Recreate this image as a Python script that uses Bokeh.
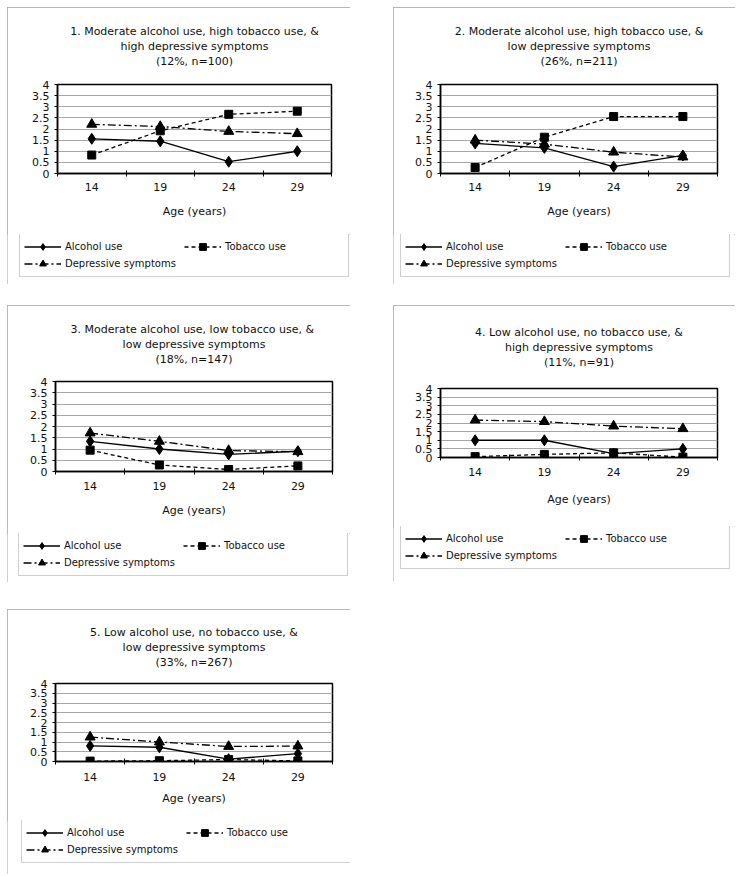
from bokeh.plotting import figure
from bokeh.models import FixedTicker, Legend, LegendItem, Range1d, Spacer
from bokeh.layouts import column, row
from bokeh.embed import file_html
from bokeh.resources import INLINE

# ---------------- data ----------------
ages = ["14", "19", "24", "29"]
y_ticks = [0, 0.5, 1, 1.5, 2, 2.5, 3, 3.5, 4]
y_tick_labels = ["0", "0.5", "1", "1.5", "2", "2.5", "3", "3.5", "4"]
series_names = ["Alcohol use", "Tobacco use", "Depressive symptoms"]

titles = [
    "1. Moderate alcohol use, high tobacco use, &\nhigh depressive symptoms\n(12%, n=100)",
    "2. Moderate alcohol use, high tobacco use, &\nlow depressive symptoms\n(26%, n=211)",
    "3. Moderate alcohol  use, low tobacco use, &\nlow depressive symptoms\n(18%, n=147)",
    "4. Low alcohol use, no tobacco use, &\nhigh depressive symptoms\n(11%, n=91)",
    "5. Low alcohol use, no tobacco use, &\nlow depressive symptoms\n(33%, n=267)",
]

alcohol_1 = [1.56, 1.45, 0.53, 1.00]
tobacco_1 = [0.83, 1.92, 2.66, 2.80]
depressive_1 = [2.21, 2.11, 1.89, 1.79]

alcohol_2 = [1.35, 1.15, 0.31, 0.81]
tobacco_2 = [0.27, 1.63, 2.56, 2.56]
depressive_2 = [1.50, 1.32, 0.96, 0.74]

alcohol_3 = [1.34, 1.00, 0.76, 0.90]
tobacco_3 = [0.95, 0.29, 0.09, 0.25]
depressive_3 = [1.71, 1.34, 0.93, 0.88]

alcohol_4 = [1.00, 1.00, 0.22, 0.50]
tobacco_4 = [0.05, 0.18, 0.27, 0.02]
depressive_4 = [2.17, 2.08, 1.82, 1.67]

alcohol_5 = [0.80, 0.73, 0.12, 0.40]
tobacco_5 = [0.02, 0.04, 0.10, 0.03]
depressive_5 = [1.25, 1.00, 0.77, 0.79]

panels_data = [
    (alcohol_1, tobacco_1, depressive_1),
    (alcohol_2, tobacco_2, depressive_2),
    (alcohol_3, tobacco_3, depressive_3),
    (alcohol_4, tobacco_4, depressive_4),
    (alcohol_5, tobacco_5, depressive_5),
]

# ---------------- layout / style ----------------
FONT = "DejaVu Sans"
TXT = "#111111"
BOX = "#a0a0a0"
# (panel w, panel h, frame left, frame width, frame top, frame height, legend top, legend left)
geom = [
    (343, 277, 50, 274, 76, 90, 227, 10),
    (342, 277, 47, 277, 76, 90, 227, 5),
    (343, 277, 48, 277, 75, 91, 228, 9),
    (342, 277, 47, 277, 82, 70, 221, 5),
    (343, 265, 48, 277, 73, 79, 211, 12),
]
title_standoff = [32, 32, 31, 38, 29]
tick_label_standoff = [6, 6, 7, 7, 8]
axis_label_standoff = [11, 11, 11, 14, 8]
LEGEND_H = 42

styles = [
    dict(line_dash="solid", marker="diamond", size=11),
    dict(line_dash="4 3", marker="square", size=8),
    dict(line_dash="8 3 2 3", marker="triangle", size=10),
]


def no_frame_align(fig):
    if "frame_align" in fig.properties():
        fig.frame_align = False


def draw_series(p, xs, vals, st):
    lr = p.line(xs, vals, line_color="black", line_width=1.3, line_dash=st["line_dash"])
    sr = p.scatter(xs, vals, marker=st["marker"], size=st["size"],
                   fill_color="black", line_color="black")
    return [lr, sr]


def make_panel(i):
    W, H, fl, fw, ft, fh, lt, ll = geom[i]
    n = len(ages)
    xs = [k + 0.5 for k in range(n)]
    p = figure(
        width=W, height=lt, output_backend="svg", toolbar_location=None,
        x_range=Range1d(0, n), y_range=Range1d(y_ticks[0], y_ticks[-1]),
        min_border_left=fl, min_border_right=W - fl - fw,
        min_border_top=ft, min_border_bottom=lt - ft - fh,
        x_axis_label="Age (years)",
    )
    no_frame_align(p)
    p.outline_line_color = "black"
    p.outline_line_width = 1.5

    p.title.text = titles[i]
    p.title.align = "center"
    p.title.text_align = "center"
    p.title.text_font = FONT
    p.title.text_font_size = "11px"
    p.title.text_font_style = "normal"
    p.title.text_color = TXT
    p.title.text_line_height = 1.17
    p.title.standoff = title_standoff[i]

    xa = p.xaxis[0]
    xa.ticker = FixedTicker(ticks=xs, minor_ticks=list(range(n + 1)))
    xa.major_label_overrides = {x: lab for x, lab in zip(xs, ages)}
    xa.major_tick_line_color = None
    xa.major_tick_out = 0
    xa.major_tick_in = 0
    xa.minor_tick_in = 3
    xa.minor_tick_out = 3
    xa.minor_tick_line_color = "black"
    xa.axis_line_color = "black"
    xa.axis_line_width = 1.5
    xa.major_label_standoff = tick_label_standoff[i]
    xa.major_label_text_font = FONT
    xa.major_label_text_font_size = "11px"
    xa.major_label_text_color = TXT
    xa.axis_label_text_font = FONT
    xa.axis_label_text_font_size = "11px"
    xa.axis_label_text_font_style = "normal"
    xa.axis_label_text_color = TXT
    xa.axis_label_standoff = axis_label_standoff[i]

    ya = p.yaxis[0]
    ya.ticker = FixedTicker(ticks=y_ticks)
    ya.major_label_overrides = {t: lab for t, lab in zip(y_ticks, y_tick_labels)}
    ya.major_tick_in = 0
    ya.major_tick_out = 3
    ya.major_tick_line_color = "black"
    ya.minor_tick_line_color = None
    ya.axis_line_color = "black"
    ya.axis_line_width = 1.5
    ya.major_label_standoff = 5
    ya.major_label_text_font = FONT
    ya.major_label_text_font_size = "11px"
    ya.major_label_text_color = TXT

    p.xgrid.grid_line_color = None
    p.ygrid.ticker = FixedTicker(ticks=y_ticks)
    p.ygrid.grid_line_color = "#a6a6a6"

    for vals, st in zip(panels_data[i], styles):
        draw_series(p, xs, vals, st)

    # legend strip: own canvas under the chart; its series proxies lie outside its view
    Hl = H - lt
    lg = figure(
        width=W, height=Hl, output_backend="svg", toolbar_location=None,
        x_range=Range1d(0, n), y_range=Range1d(10, 11),
        x_axis_location=None, y_axis_location=None,
        min_border_left=0, min_border_right=0,
        min_border_top=0, min_border_bottom=0,
    )
    no_frame_align(lg)
    lg.outline_line_color = None
    lg.grid.visible = False
    items = []
    for name, vals, st in zip(series_names, panels_data[i], styles):
        items.append(LegendItem(label=name, renderers=draw_series(lg, xs, vals, st)))
    legend = Legend(
        items=items, location=(ll + 2, Hl - LEGEND_H - 1), orientation="horizontal", ncols=2,
        glyph_width=37, glyph_height=17, label_height=17, label_standoff=4,
        label_width=119, padding=4, spacing=0, margin=0,
        label_text_font=FONT, label_text_font_size="10px", label_text_color=TXT,
        border_line_color=BOX, border_line_width=1,
        background_fill_color="white", background_fill_alpha=1,
    )
    lg.add_layout(legend)

    return column(p, row(lg), spacing=0,
                  styles={"outline": "1px solid " + BOX, "outline-offset": "-1px"})


panels = [make_panel(i) for i in range(5)]

layout = column(
    Spacer(height=7),
    row(Spacer(width=7), panels[0], Spacer(width=43), panels[1]),
    Spacer(height=21),
    row(Spacer(width=7), panels[2], Spacer(width=43), panels[3]),
    Spacer(height=27),
    row(Spacer(width=7), panels[4]),
)

open("out.html", "w").write(file_html(layout, INLINE))
